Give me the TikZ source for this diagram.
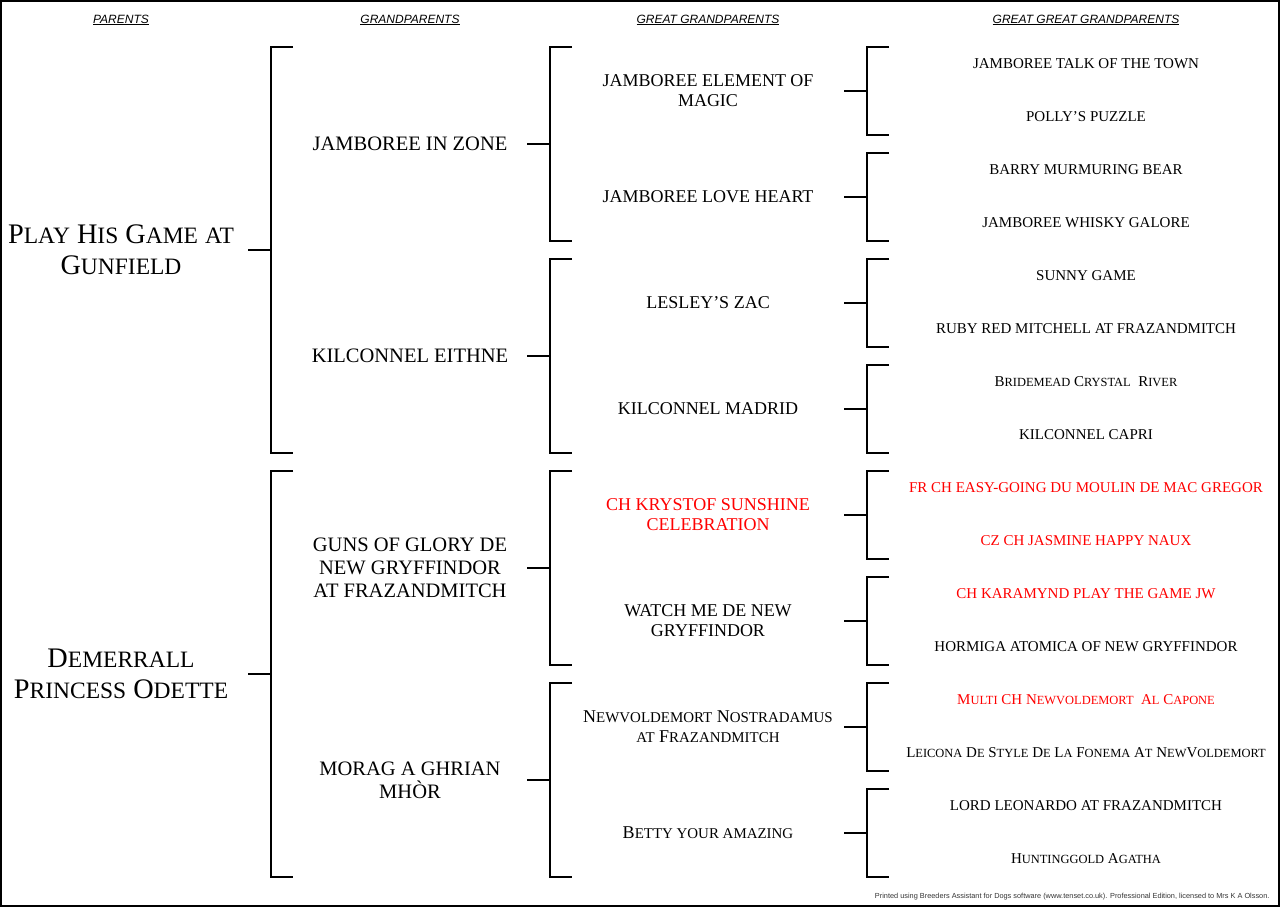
\documentclass[tikz,border=0pt]{standalone}
\usepackage{fontspec}
\setmainfont{Liberation Serif}
\setsansfont{Liberation Sans}
\usepackage{graphicx}
\usepackage{xcolor}
\usepackage{tikz}
\usetikzlibrary{positioning,calc}

\newcommand\sm[1]{\scalebox{0.83}{#1}}

\begin{document}
\begin{tikzpicture}[
  x=1pt, y=-1pt,
  colhead/.style={font=\fontsize{12}{14}\selectfont\sffamily\itshape},
  sire/.style={align=center, font=\fontsize{28.3}{31}\selectfont},
  grand/.style={align=center, font=\fontsize{20.5}{23}\selectfont},
  ggrand/.style={align=center, font=\fontsize{18}{20}\selectfont},
  gggrand/.style={font=\fontsize{15}{17}\selectfont, yshift=-1pt},
  champ/.style={text=red},
  bracket/.style={line width=1.6pt},
  footer/.style={font=\fontsize{7.35}{8}\selectfont\sffamily, text=black!80}
]
  \useasboundingbox (0,0) rectangle (1280,908);
  \draw[line width=1.2pt] (1,1) rectangle (1279,906);

  \node[colhead] (hparents) at (121,20) {\underline{PARENTS}};
  \node[colhead] (hgrand) at (410,20) {\underline{GRANDPARENTS}};
  \node[colhead] (hggrand) at (708,20) {\underline{GREAT GRANDPARENTS}};
  \node[colhead] (hgggrand) at (1086,20) {\underline{GREAT GREAT GRANDPARENTS}};

  \node[sire] (sire) at (121,250) {P\sm{LAY} H\sm{IS} G\sm{AME} \sm{AT}\\G\sm{UNFIELD}};
  \node[sire] (dam) at (121,674) {D\sm{EMERRALL}\\P\sm{RINCESS} O\sm{DETTE}};

  \node[grand] (g1) at (410,144) {JAMBOREE IN ZONE};
  \node[grand] (g2) at (410,356) {KILCONNEL EITHNE};
  \node[grand] (g3) at (410,568) {GUNS OF GLORY DE\\NEW GRYFFINDOR\\AT FRAZANDMITCH};
  \node[grand] (g4) at (410,780) {MORAG A GHRIAN\\MHÒR};

  \node[ggrand] (gg1) at (708,91) {JAMBOREE ELEMENT OF\\MAGIC};
  \node[ggrand] (gg2) at (708,197) {JAMBOREE LOVE HEART};
  \node[ggrand] (gg3) at (708,303) {LESLEY'S ZAC};
  \node[ggrand] (gg4) at (708,409) {KILCONNEL MADRID};
  \node[ggrand, champ] (gg5) at (708,515) {CH KRYSTOF SUNSHINE\\CELEBRATION};
  \node[ggrand] (gg6) at (708,621) {WATCH ME DE NEW\\GRYFFINDOR};
  \node[ggrand] (gg7) at (708,727) {N\sm{EWVOLDEMORT} N\sm{OSTRADAMUS}\\\sm{AT} F\sm{RAZANDMITCH}};
  \node[ggrand] (gg8) at (708,833) {B\sm{ETTY YOUR AMAZING}};

  \node[gggrand] (ggg1) at (1086,63) {JAMBOREE TALK OF THE TOWN};
  \node[gggrand] (ggg2) at (1086,116) {POLLY'S PUZZLE};
  \node[gggrand] (ggg3) at (1086,169) {BARRY MURMURING BEAR};
  \node[gggrand] (ggg4) at (1086,222) {JAMBOREE WHISKY GALORE};
  \node[gggrand] (ggg5) at (1086,275) {SUNNY GAME};
  \node[gggrand] (ggg6) at (1086,328) {RUBY RED MITCHELL AT FRAZANDMITCH};
  \node[gggrand] (ggg7) at (1086,381) {B\sm{RIDEMEAD} C\sm{RYSTAL}\ \ R\sm{IVER}};
  \node[gggrand] (ggg8) at (1086,434) {KILCONNEL CAPRI};
  \node[gggrand, champ] (ggg9) at (1086,487) {FR CH EASY-GOING DU MOULIN DE MAC GREGOR};
  \node[gggrand, champ] (ggg10) at (1086,540) {CZ CH JASMINE HAPPY NAUX};
  \node[gggrand, champ] (ggg11) at (1086,593) {CH KARAMYND PLAY THE GAME JW};
  \node[gggrand] (ggg12) at (1086,646) {HORMIGA ATOMICA OF NEW GRYFFINDOR};
  \node[gggrand, champ] (ggg13) at (1086,699) {M\sm{ULTI} CH N\sm{EWVOLDEMORT}\ \ A\sm{L} C\sm{APONE}};
  \node[gggrand] (ggg14) at (1086,752) {L\sm{EICONA} D\sm{E} S\sm{TYLE} D\sm{E} L\sm{A} F\sm{ONEMA} A\sm{T} N\sm{EW}V\sm{OLDEMORT}};
  \node[gggrand] (ggg15) at (1086,805) {LORD LEONARDO AT FRAZANDMITCH};
  \node[gggrand] (ggg16) at (1086,858) {H\sm{UNTINGGOLD} A\sm{GATHA}};

  \foreach \n/\len/\xs in {2/406/248, 4/194/527, 8/88/844}{
    \pgfmathsetmacro\gap{848/\n}
    \foreach \i in {1,...,\n}{
      \pgfmathsetmacro\ytop{47+\gap*(\i-1)}
      \draw[bracket] (\xs,\ytop+\len/2) -- ++(23,0);
      \draw[bracket] (\xs+45,\ytop) -- (\xs+23,\ytop) -- (\xs+23,\ytop+\len) -- (\xs+45,\ytop+\len);
    }
  }

  \node[footer, anchor=east] (credit) at (1273,897) {Printed using Breeders Assistant for Dogs software (www.tenset.co.uk). Professional Edition, licensed to Mrs K A Olsson.};
\end{tikzpicture}
\end{document}
